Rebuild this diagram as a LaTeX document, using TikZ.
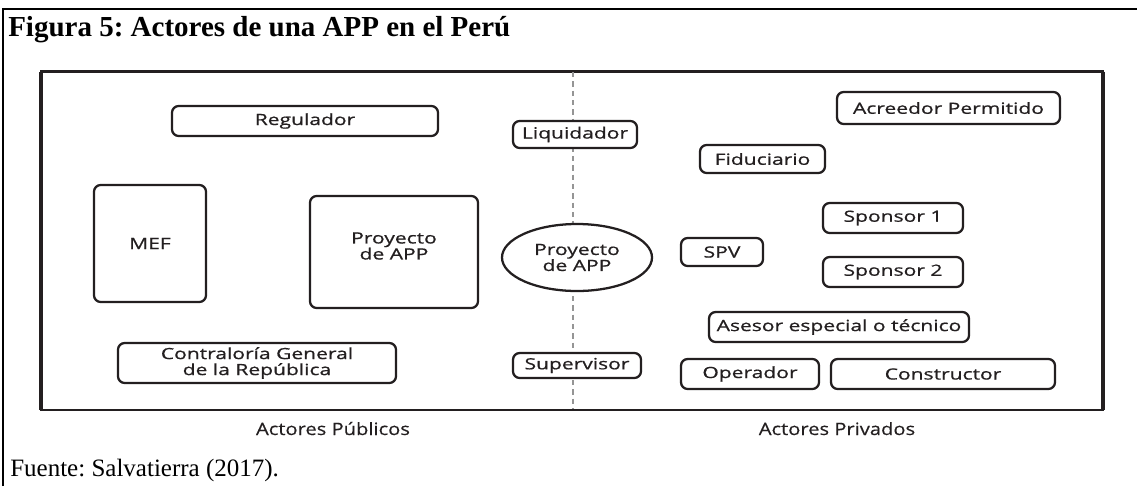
\documentclass[tikz,border=0pt]{standalone}
\usepackage{fontspec}
\setmainfont{Liberation Serif}
\newfontfamily\boxfont[FakeStretch=1.36,FakeBold=0.7]{Open Sans}
\newfontfamily\capfont[FakeStretch=1.18,FakeBold=0.4]{Open Sans}
\usetikzlibrary{shapes.geometric}
\definecolor{ink}{HTML}{231F20}
\definecolor{divgray}{HTML}{959595}
\frenchspacing
\tikzset{
  actor/.style={draw=ink, line width=1.7pt, rounded corners=5pt, fill=white,
    inner sep=0pt, align=center, text=ink,
    font=\boxfont\fontsize{11.6}{12}\selectfont},
  oval/.style={actor, ellipse, rounded corners=0pt},
  frameline/.style={draw=ink, line width=1.6pt},
  divider/.style={draw=divgray, line width=2.2pt, dash pattern=on 4pt off 3pt},
  sidelabel/.style={text=ink, inner sep=0pt, anchor=base, font=\capfont\fontsize{12.8}{14}\selectfont},
}
\begin{document}
\begin{tikzpicture}[x=0.75pt,y=-0.75pt]
\useasboundingbox (0,0) rectangle (1137,486);
% outer frame
\coordinate (obl) at (3,486);
\coordinate (otl) at (3,9);
\coordinate (otr) at (1137,9);
\draw[line width=1.2pt] (obl) -- (otl) -- (otr);
% title and source
\node[anchor=base west, inner sep=0pt, font=\bfseries\fontsize{21.75}{24}\selectfont] (title) at (8,36.5) {Figura 5: Actores de una APP en el Perú};
\node[anchor=base west, inner sep=0pt, font=\fontsize{18.75}{21}\selectfont] (source) at (10,476.5) {Fuente: Salvatierra (2017).};
% inner frame
\coordinate (ftl) at (41,71.5);
\coordinate (fbr) at (1103,410);
\draw[frameline] (ftl) rectangle (fbr);
\draw[draw=ink, line width=2.6pt] (41,71.5) -- (41,410) (1103,71.5) -- (1103,410);
% divider
\coordinate (dtop) at (573,72);
\coordinate (dbot) at (573,409);
\draw[divider] (dtop) -- (dbot);
% public actors
\node[actor, minimum width=199.5pt, minimum height=22.5pt] (regulador) at (305,121) {Regulador};
\node[actor, minimum width=84pt, minimum height=87.75pt] (mef) at (150,243.5) {MEF};
\node[actor, minimum width=126pt, minimum height=84pt] (proyrect) at (394,252) {};
\node[text=ink, align=center, inner sep=0pt, font=\boxfont\fontsize{11.6}{12}\selectfont] (proyrecttext) at (394,246) {Proyecto\\de APP};
\node[actor, minimum width=208.5pt, minimum height=30pt] (contraloria) at (257,363) {Contraloría General\\de la República};
% middle
\node[actor, minimum width=93pt, minimum height=20.25pt] (liquidador) at (575,134.5) {Liquidador};
\node[oval, minimum width=112.5pt, minimum height=50.25pt] (proyecto) at (577,257.5) {Proyecto\\de APP};
\node[actor, minimum width=96pt, minimum height=18.75pt] (supervisor) at (577,365.5) {Supervisor};
% private actors
\node[actor, minimum width=167.25pt, minimum height=24pt] (acreedor) at (948.5,108) {Acreedor Permitido};
\node[actor, minimum width=93.75pt, minimum height=21pt] (fiduciario) at (762.5,159) {Fiduciario};
\node[actor, minimum width=105pt, minimum height=22.5pt] (sponsor1) at (893,218) {Sponsor 1};
\node[actor, minimum width=61.5pt, minimum height=21pt] (spv) at (722,252) {SPV};
\node[actor, minimum width=105pt, minimum height=22.5pt] (sponsor2) at (893,272) {Sponsor 2};
\node[actor, minimum width=195pt, minimum height=22.5pt] (asesor) at (839,327) {Asesor especial o técnico};
\node[actor, minimum width=103.5pt, minimum height=22.5pt] (operador) at (750,374) {Operador};
\node[actor, minimum width=168pt, minimum height=22.5pt] (constructor) at (943,374) {Constructor};
% side labels
\node[sidelabel] (publicos) at (333,435) {Actores Públicos};
\node[sidelabel] (privados) at (837,435) {Actores Privados};
\end{tikzpicture}
\end{document}
